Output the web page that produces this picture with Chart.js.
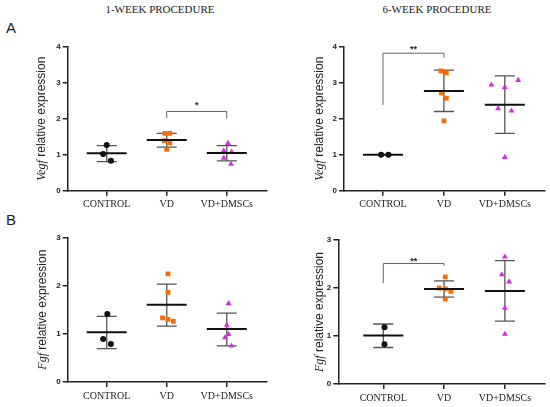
<!DOCTYPE html>
<html>
<head>
<meta charset="utf-8">
<script src="https://cdn.jsdelivr.net/npm/chart.js@4.4.1/dist/chart.umd.min.js"></script>
<style>
body{margin:0;background:#fff;width:550px;height:407px;position:relative;overflow:hidden;}
canvas{position:absolute;}
.title{position:absolute;font:11px "Liberation Serif",serif;color:#222;transform:translateX(-50%);white-space:nowrap;}
.letter{position:absolute;font:15px "Liberation Sans",Arial,sans-serif;color:#222;}
</style>
</head>
<body>
<div class="title" style="left:160px;top:3px">1-WEEK PROCEDURE</div>
<div class="title" style="left:437px;top:3px">6-WEEK PROCEDURE</div>
<div class="letter" style="left:6px;top:19px">A</div>
<div class="letter" style="left:6px;top:211px">B</div>
<canvas id="a1" width="275" height="190" style="left:0;top:25px"></canvas>
<canvas id="a2" width="275" height="190" style="left:275px;top:25px"></canvas>
<canvas id="b1" width="275" height="192" style="left:0;top:215px"></canvas>
<canvas id="b2" width="275" height="192" style="left:275px;top:215px"></canvas>
<script>
const categories = ['CONTROL', 'VD', 'VD+DMSCs'];

// Vegf, 1 week
const vegf1Control = [1.27, 1.02, 0.83];
const vegf1Vd = [1.59, 1.59, 1.39, 1.33, 1.15];
const vegf1Dmsc = [1.32, 1.11, 1.08, 0.91, 0.74];
const vegf1Mean = [1.04, 1.41, 1.05];
const vegf1SdHi = [1.25, 1.59, 1.25];
const vegf1SdLo = [0.81, 1.21, 0.83];

// Vegf, 6 weeks
const vegf6Control = [1.0, 1.0];
const vegf6Vd = [3.33, 3.28, 2.72, 2.57, 1.94];
const vegf6Dmsc = [2.94, 2.87, 3.07, 2.28, 2.22, 0.93];
const vegf6Mean = [1.0, 2.77, 2.39];
const vegf6SdHi = [1.0, 3.35, 3.19];
const vegf6SdLo = [1.0, 2.20, 1.59];

// Fgf, 1 week
const fgf1Control = [1.41, 0.89, 0.79];
const fgf1Vd = [2.24, 1.86, 1.33, 1.30, 1.26];
const fgf1Dmsc = [1.63, 1.18, 0.99, 0.92, 0.75];
const fgf1Mean = [1.03, 1.60, 1.10];
const fgf1SdHi = [1.36, 2.03, 1.43];
const fgf1SdLo = [0.69, 1.16, 0.75];

// Fgf, 6 weeks
const fgf6Control = [1.18, 0.83];
const fgf6Vd = [2.23, 2.00, 1.98, 1.93, 1.77];
const fgf6Dmsc = [2.65, 2.28, 2.13, 1.58, 1.04];
const fgf6Mean = [1.01, 1.98, 1.94];
const fgf6SdHi = [1.25, 2.15, 2.57];
const fgf6SdLo = [0.76, 1.81, 1.31];

// horizontal scatter of the dots (category units)
const vegf1Jitter = [[0, -0.06, 0.07], [-0.03, 0.05, -0.04, 0.05, 0], [0.02, -0.05, 0.08, -0.05, 0.07]];
const vegf6Jitter = [[-0.03, 0.09], [-0.05, 0.04, -0.04, 0.04, 0], [-0.22, 0, 0.22, -0.11, 0.11, 0]];
const fgf1Jitter = [[0.01, -0.06, 0.07], [0.02, 0.02, -0.07, 0.02, 0.11], [0.03, 0, 0.03, -0.03, 0.08]];
const fgf6Jitter = [[0.02, 0.02], [0.02, -0.08, 0.02, 0.11, 0.02], [0, -0.05, 0.07, 0, 0]];

// significance brackets: [from, to, footFrom, footTo, top, label, labelY]
const vegf1Sig = [2, 3, 2.01, 2.01, 2.20, '*', 2.43];
const vegf6Sig = [1, 2, 2.38, 3.70, 3.82, '**', 4.0];
const fgf6Sig = [1, 2, 2.10, 2.46, 2.51, '**', 2.6];

const colors = ['#111111', '#ff6a00', '#d42ae0'];
const shapes = ['circle', 'rect', 'triangle'];
const radii = [3, 3.4, 3.4];

const statsPlugin = {
  id: 'stats',
  beforeDatasetsDraw(chart, args, o) {
    const {ctx, scales: {x, y}} = chart;
    ctx.save();
    ctx.strokeStyle = '#555';
    ctx.lineWidth = 1.3;
    o.mean.forEach((m, i) => {
      const cx = x.getPixelForValue(i + 1);
      const yh = y.getPixelForValue(o.hi[i]);
      const yl = y.getPixelForValue(o.lo[i]);
      if (Math.abs(yh - yl) < 0.5) return;
      ctx.beginPath();
      ctx.moveTo(cx, yh); ctx.lineTo(cx, yl);
      ctx.moveTo(cx - 10, yh); ctx.lineTo(cx + 10, yh);
      ctx.moveTo(cx - 10, yl); ctx.lineTo(cx + 10, yl);
      ctx.stroke();
    });
    ctx.restore();
  },
  afterDatasetsDraw(chart, args, o) {
    const {ctx, scales: {x, y}} = chart;
    ctx.save();
    ctx.strokeStyle = '#111';
    ctx.lineWidth = 2;
    o.mean.forEach((m, i) => {
      const cx = x.getPixelForValue(i + 1);
      const py = y.getPixelForValue(m);
      ctx.beginPath();
      ctx.moveTo(cx - 20, py); ctx.lineTo(cx + 20, py);
      ctx.stroke();
    });
    if (o.sig) {
      const [a, b, fa, fb, top, label, ly] = o.sig;
      const xa = x.getPixelForValue(a), xb = x.getPixelForValue(b);
      const yt = y.getPixelForValue(top);
      ctx.strokeStyle = '#666';
      ctx.lineWidth = 1;
      ctx.beginPath();
      ctx.moveTo(xa, y.getPixelForValue(fa));
      ctx.lineTo(xa, yt);
      ctx.lineTo(xb, yt);
      ctx.lineTo(xb, y.getPixelForValue(fb));
      ctx.stroke();
      ctx.fillStyle = '#222';
      ctx.font = 'bold 9px "Liberation Sans", Arial, sans-serif';
      ctx.textAlign = 'center';
      ctx.textBaseline = 'alphabetic';
      ctx.fillText(label, (xa + xb) / 2, y.getPixelForValue(ly) + 5);
    }
    ctx.restore();
  },
  afterDraw(chart, args, o) {
    const {ctx, chartArea} = chart;
    ctx.save();
    ctx.translate(o.titleX, (chartArea.top + chartArea.bottom) / 2);
    ctx.rotate(-Math.PI / 2);
    ctx.fillStyle = '#222';
    ctx.textBaseline = 'middle';
    ctx.textAlign = 'left';
    const fGene = 'italic 12px "Liberation Serif", serif';
    const fRest = '12px "Liberation Sans", Arial, sans-serif';
    const rest = ' relative expression';
    ctx.font = fGene;
    const w1 = ctx.measureText(o.gene).width;
    ctx.font = fRest;
    const w2 = ctx.measureText(rest).width;
    const start = -(w1 + w2) / 2;
    ctx.font = fGene;
    ctx.fillText(o.gene, start, 0);
    ctx.font = fRest;
    ctx.fillText(rest, start + w1, 0);
    ctx.restore();
  }
};

function makePanel(id, groups, jitter, mean, hi, lo, sig, gene, yMax, xMin, xMax, area, titleX) {
  const canvas = document.getElementById(id);
  const datasets = groups.map((vals, g) => ({
    data: vals.map((v, k) => ({x: g + 1 + jitter[g][k], y: v})),
    pointStyle: shapes[g],
    pointRadius: radii[g],
    backgroundColor: colors[g],
    borderColor: colors[g],
    borderWidth: 0,
    showLine: false
  }));
  const axisColor = '#222';
  return new Chart(canvas, {
    type: 'scatter',
    data: {datasets},
    options: {
      responsive: false,
      animation: false,
      layout: {padding: {left: 0, top: area.top, right: area.right, bottom: 0}},
      plugins: {
        legend: {display: false},
        tooltip: {enabled: false},
        stats: {mean, hi, lo, sig, gene, titleX}
      },
      scales: {
        x: {
          type: 'linear',
          min: xMin,
          max: xMax,
          afterBuildTicks: s => { s.ticks = [1, 2, 3].map(v => ({value: v})); },
          afterFit: s => { s.height = canvas.height - area.bottom; },
          ticks: {
            autoSkip: false,
            maxRotation: 0,
            padding: 3,
            color: '#222',
            font: {family: '"Liberation Serif", serif', size: 10},
            callback: v => categories[v - 1]
          },
          grid: {drawOnChartArea: false, drawTicks: true, tickLength: 5, color: axisColor, lineWidth: 1.5},
          border: {display: true, color: axisColor, width: 1.5}
        },
        y: {
          min: 0,
          max: yMax,
          afterFit: s => { s.width = area.left; },
          ticks: {
            stepSize: 1,
            padding: 2,
            color: '#222',
            font: {family: '"Liberation Sans", Arial, sans-serif', size: 8, weight: 'bold'}
          },
          grid: {drawOnChartArea: false, drawTicks: true, tickLength: 5, color: axisColor, lineWidth: 1.5},
          border: {display: true, color: axisColor, width: 1.5}
        }
      }
    },
    plugins: [statsPlugin]
  });
}

makePanel('a1', [vegf1Control, vegf1Vd, vegf1Dmsc], vegf1Jitter, vegf1Mean, vegf1SdHi, vegf1SdLo,
  vegf1Sig, 'Vegf', 4, 0.35, 3.67, {left: 67.7, top: 21.7, right: 8, bottom: 165.7}, 41.7);
makePanel('a2', [vegf6Control, vegf6Vd, vegf6Dmsc], vegf6Jitter, vegf6Mean, vegf6SdHi, vegf6SdLo,
  vegf6Sig, 'Vegf', 4, 0.36, 3.66, {left: 69, top: 21.7, right: 5, bottom: 165.7}, 45);
makePanel('b1', [fgf1Control, fgf1Vd, fgf1Dmsc], fgf1Jitter, fgf1Mean, fgf1SdHi, fgf1SdLo,
  null, 'Fgf', 3, 0.35, 3.67, {left: 67.7, top: 22.3, right: 8, bottom: 167}, 42.7);
makePanel('b2', [fgf6Control, fgf6Vd, fgf6Dmsc], fgf6Jitter, fgf6Mean, fgf6SdHi, fgf6SdLo,
  fgf6Sig, 'Fgf', 3, 0.26, 3.66, {left: 63.3, top: 25, right: 5, bottom: 169}, 45);
</script>
</body>
</html>
